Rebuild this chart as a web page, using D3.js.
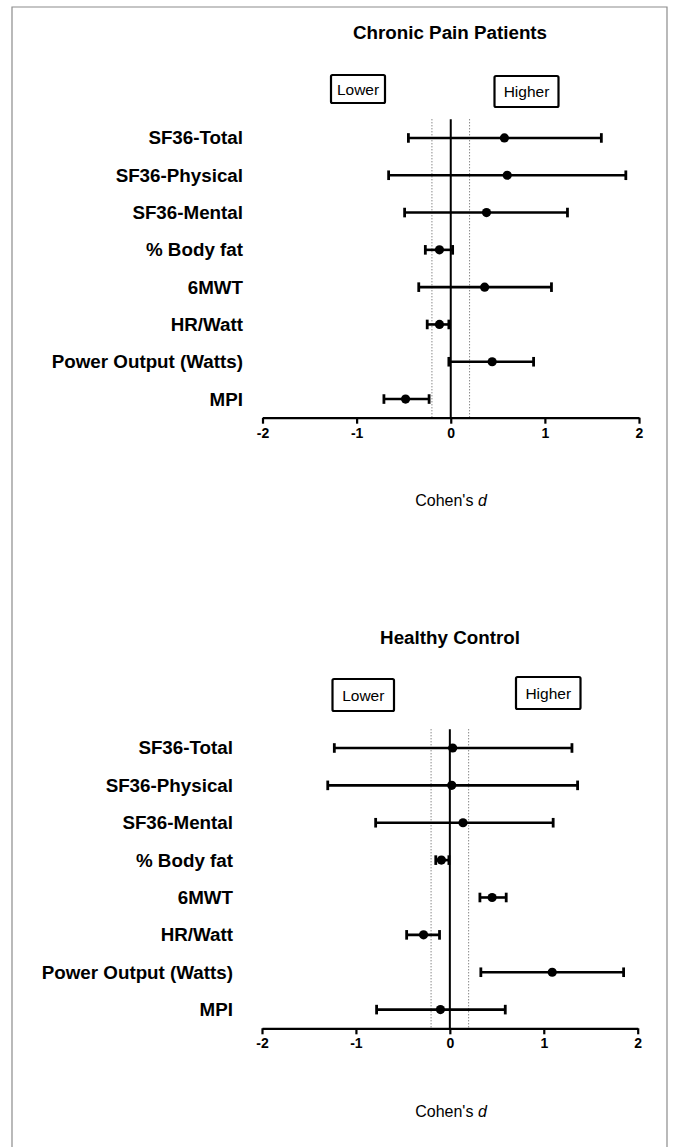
<!DOCTYPE html>
<html>
<head>
<meta charset="utf-8">
<script src="https://cdn.jsdelivr.net/npm/d3@7"></script>
<style>
  html, body { margin: 0; padding: 0; background: #fff; }
  svg { display: block; }
  text { font-family: "Liberation Sans", Arial, sans-serif; fill: #000; }
</style>
</head>
<body>
<svg id="chart" width="677" height="1147"></svg>
<script>
// ---- Data ----
const categories = ["SF36-Total", "SF36-Physical", "SF36-Mental", "% Body fat", "6MWT", "HR/Watt", "Power Output (Watts)", "MPI"];
const xTicks = [-2, -1, 0, 1, 2];
const xTickLabels = ["-2", "-1", "0", "1", "2"];

// Chronic Pain Patients: Cohen's d with lower / upper CI
const painD     = [0.57, 0.60, 0.38, -0.12, 0.36, -0.12, 0.44, -0.48];
const painLower = [-0.45, -0.66, -0.49, -0.27, -0.34, -0.25, -0.02, -0.71];
const painUpper = [1.60, 1.86, 1.24, 0.02, 1.07, -0.02, 0.88, -0.23];

// Healthy Control
const ctrlD     = [0.03, 0.02, 0.14, -0.09, 0.45, -0.28, 1.09, -0.10];
const ctrlLower = [-1.23, -1.30, -0.79, -0.15, 0.32, -0.46, 0.33, -0.78];
const ctrlUpper = [1.30, 1.36, 1.10, -0.01, 0.60, -0.11, 1.85, 0.59];

const thresholds = [-0.2, 0.2];

const svg = d3.select("#chart");

// outer frame
svg.append("path")
  .attr("d", "M12,1150 L12,7 L667,7 L667,1150")
  .attr("fill", "none").attr("stroke", "#8c8c8c").attr("stroke-width", 1.2);

function drawPanel(cfg) {
  const g = svg.append("g");
  const x = d3.scaleLinear().domain([-2, 2]).range([cfg.x0, cfg.x1]);
  const y = d3.scalePoint().domain(categories).range([cfg.yTop, cfg.yAxis]).padding(0.5);

  // title
  g.append("text").attr("x", 450).attr("y", cfg.titleY)
    .attr("text-anchor", "middle").attr("font-size", 18.8).attr("font-weight", "bold")
    .text(cfg.title);

  // Lower / Higher boxes
  cfg.boxes.forEach(b => {
    g.append("rect").attr("x", b.x).attr("y", b.y).attr("width", b.w).attr("height", b.h)
      .attr("rx", 1.5).attr("fill", "#fff").attr("stroke", "#000").attr("stroke-width", 2.2);
    g.append("text").attr("x", b.x + b.w / 2).attr("y", b.y + b.h / 2 + 5.5)
      .attr("text-anchor", "middle").attr("font-size", 15.5).text(b.label);
  });

  // threshold dotted lines
  thresholds.forEach(t => {
    g.append("line").attr("x1", x(t)).attr("x2", x(t))
      .attr("y1", cfg.yTop).attr("y2", cfg.yAxis)
      .attr("stroke", "#555").attr("stroke-width", 1).attr("stroke-dasharray", "1,2");
  });

  // zero line
  g.append("line").attr("x1", x(0)).attr("x2", x(0))
    .attr("y1", cfg.yTop).attr("y2", cfg.yAxis)
    .attr("stroke", "#000").attr("stroke-width", 2);

  // x axis
  const axis = d3.axisBottom(x).tickValues(xTicks).tickFormat((d, i) => xTickLabels[i])
    .tickSize(6).tickSizeOuter(0).tickPadding(4);
  const ax = g.append("g").attr("transform", `translate(0,${cfg.yAxis})`).call(axis);
  ax.attr("font-size", 14).attr("font-family", "Liberation Sans, Arial, sans-serif");
  ax.select(".domain").attr("stroke", "#000").attr("stroke-width", 2.2);
  ax.selectAll(".tick line").attr("stroke", "#000").attr("stroke-width", 2.2);
  ax.selectAll(".tick text").attr("font-size", 14).attr("font-weight", "bold").attr("fill", "#000");

  // x axis title
  const xt = g.append("text").attr("x", 451).attr("y", cfg.xTitleY)
    .attr("text-anchor", "middle").attr("font-size", 16);
  xt.append("tspan").text("Cohen's ");
  xt.append("tspan").attr("font-style", "italic").text("d");

  // category labels
  g.selectAll("text.cat").data(categories).enter().append("text")
    .attr("class", "cat")
    .attr("x", cfg.labelX).attr("y", d => y(d) + 6.5)
    .attr("text-anchor", "end").attr("font-size", 18.8).attr("font-weight", "bold")
    .text(d => d);

  // error bars
  const rows = categories.map((c, i) => ({ c, d: cfg.d[i], lo: cfg.lo[i], hi: cfg.hi[i] }));
  const eb = g.selectAll("g.eb").data(rows).enter().append("g").attr("class", "eb");
  eb.append("line").attr("x1", r => x(r.lo)).attr("x2", r => x(r.hi))
    .attr("y1", r => y(r.c)).attr("y2", r => y(r.c))
    .attr("stroke", "#000").attr("stroke-width", 2.6);
  eb.append("line").attr("x1", r => x(r.lo)).attr("x2", r => x(r.lo))
    .attr("y1", r => y(r.c) - 4.8).attr("y2", r => y(r.c) + 4.8)
    .attr("stroke", "#000").attr("stroke-width", 2.8);
  eb.append("line").attr("x1", r => x(r.hi)).attr("x2", r => x(r.hi))
    .attr("y1", r => y(r.c) - 4.8).attr("y2", r => y(r.c) + 4.8)
    .attr("stroke", "#000").attr("stroke-width", 2.8);
  eb.append("circle").attr("cx", r => x(r.d)).attr("cy", r => y(r.c)).attr("r", 4.6)
    .attr("fill", "#000");
}

drawPanel({
  title: "Chronic Pain Patients", titleY: 39,
  x0: 262.5, x1: 639, yTop: 119.3, yAxis: 417.7, xTitleY: 506,
  labelX: 243,
  boxes: [
    { x: 331, y: 75, w: 54, h: 28, label: "Lower" },
    { x: 494.5, y: 76, w: 64, h: 31, label: "Higher" }
  ],
  d: painD, lo: painLower, hi: painUpper
});

drawPanel({
  title: "Healthy Control", titleY: 644,
  x0: 262, x1: 637.7, yTop: 729.3, yAxis: 1028.3, xTitleY: 1117,
  labelX: 233,
  boxes: [
    { x: 332.5, y: 679, w: 61.5, h: 32, label: "Lower" },
    { x: 516, y: 677, w: 64.5, h: 32, label: "Higher" }
  ],
  d: ctrlD, lo: ctrlLower, hi: ctrlUpper
});
</script>
</body>
</html>
